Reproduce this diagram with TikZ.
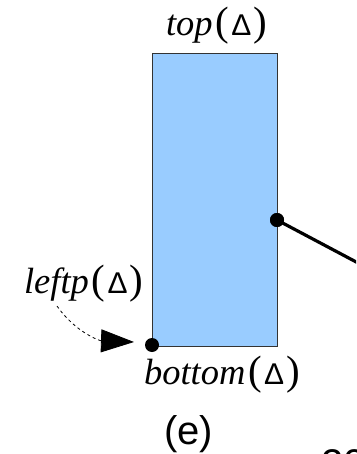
\documentclass[tikz,border=0pt]{standalone}
\usepackage{fontspec}
\setmainfont{Liberation Serif}
\setsansfont{Liberation Sans}
\usetikzlibrary{arrows.meta}
\definecolor{boxblue}{HTML}{99CCFF}
\definecolor{boxedge}{HTML}{333333}
\newcommand{\mylab}[1]{{\fontsize{36.5}{40}\selectfont\itshape #1}\hspace{3pt}{\fontsize{41}{40}\selectfont(}\hspace{2pt}{\sffamily\fontsize{30}{36}\selectfont Δ}\hspace{2pt}{\fontsize{41}{40}\selectfont)}}
\begin{document}
\begin{tikzpicture}[x=1pt,y=-1pt,
  lab/.style={inner sep=0pt,outer sep=0pt,anchor=base west},
  dot/.style={circle,fill=black,inner sep=0pt,minimum size=14pt},
  conn/.style={line width=3.2pt,black},
  hint/.style={dashed,dash pattern=on 3pt off 3pt,line width=0.8pt,-{Triangle[length=33pt,width=23pt]}}]
\useasboundingbox (0,0) rectangle (356,454);
\clip (0,0) rectangle (356,454);
\draw[fill=boxblue,draw=boxedge,line width=1pt] (152,54) rectangle (277,346);
\coordinate (lend) at (380,274.6);
\coordinate (cs) at (57,306);
\coordinate (atip) at (134,342);
\node[dot] (rdot) at (277,220) {};
\node[dot] (bldot) at (152,345) {};
\draw[conn] (rdot.center) -- (lend);
\node[dot] at (rdot.center) {};
\draw[hint] (cs) to[out=-55,in=178] (atip);
\node[lab] (toplab) at (166,36) {\mylab{top}};
\node[lab] (leftlab) at (24,293) {\mylab{leftp}};
\node[lab] (botlab) at (144,384) {\mylab{bottom}};
\node[lab,font=\sffamily\fontsize{40}{44}\selectfont] (elab) at (164,444) {(e)};
\node[lab,font=\sffamily\fontsize{40}{44}\selectfont] (num) at (321,477) {20};
\end{tikzpicture}
\end{document}
